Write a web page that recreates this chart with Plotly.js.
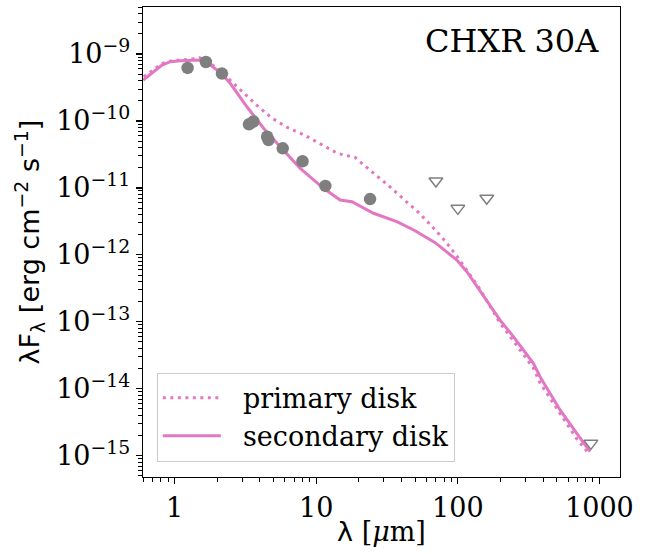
<!DOCTYPE html>
<html>
<head>
<meta charset="utf-8">
<script src="https://cdn.plot.ly/plotly-3.0.1.min.js"></script>
<style>html,body{margin:0;padding:0;background:#fff;}#chart{width:657px;height:554px;}</style>
</head>
<body>
<div id="chart"></div>
<script>
// photometry (filled circles)
const photLam = [1.235, 1.662, 2.159, 3.35, 3.6, 4.5, 4.6, 5.8, 8.0, 11.6, 24.0];
const photFlux = [6.2e-10, 7.6e-10, 5.1e-10, 8.9e-11, 9.8e-11, 5.8e-11, 5.2e-11, 3.9e-11, 2.5e-11, 1.07e-11, 6.8e-12];
// upper limits (open down-triangles)
const upperLam = [70, 100, 160, 870];
const upperFlux = [1.27e-11, 4.95e-12, 7.0e-12, 1.53e-15];
// primary disk model (dotted)
const primaryLam = [0.604, 0.731, 0.823, 0.959, 1.128, 1.29, 1.50, 1.693, 2.10, 2.43, 3.04, 3.815, 4.81, 6.21, 8.23, 10.8, 14.1, 16.3, 18.8, 21.0, 26.8, 33.65, 42.5, 53.3, 66.2, 81.4, 98.4, 117.5, 139.7, 198.7, 246.8, 341.6, 380.8, 527, 691.8, 850];
const primaryFlux = [4.58e-10, 6.11e-10, 7.26e-10, 7.94e-10, 8.13e-10, 8.33e-10, 8.81e-10, 8.13e-10, 5.45e-10, 4.19e-10, 2.68e-10, 1.71e-10, 1.12e-10, 8.04e-11, 6.17e-11, 4.53e-11, 3.29e-11, 3.05e-11, 2.86e-11, 2.33e-11, 1.52e-11, 1.01e-11, 6.44e-12, 4.22e-12, 2.61e-12, 1.61e-12, 9.6e-13, 5.6e-13, 3.34e-13, 9.6e-14, 5.16e-14, 2.04e-14, 1.22e-14, 4.2e-15, 1.78e-15, 1.05e-15];
// secondary disk model (solid)
const secondaryLam = [0.6, 0.815, 0.933, 1.097, 1.518, 1.674, 2.10, 2.47, 3.24, 4.25, 5.57, 7.71, 11.26, 14.76, 17.86, 25.4, 37.1, 49.2, 69.2, 98.4, 115.8, 160, 198.7, 246.8, 341.6, 380.8, 527, 691.8, 858.5];
const secondaryFlux = [4.09e-10, 6.85e-10, 7.67e-10, 7.94e-10, 8.14e-10, 7.67e-10, 5.26e-10, 3.65e-10, 1.63e-10, 7.77e-11, 4.12e-11, 1.96e-11, 9.87e-12, 6.6e-12, 6.22e-12, 4.18e-12, 3.13e-12, 2.33e-12, 1.52e-12, 8.37e-13, 5.6e-13, 2.12e-13, 1.06e-13, 6.0e-14, 2.4e-14, 1.51e-14, 4.82e-15, 2.16e-15, 1.15e-15];
// ticks
const xTickVals = [1, 10, 100, 1000];
const xTickText = ['1', '10', '100', '1000'];
const yTickVals = [1e-15, 1e-14, 1e-13, 1e-12, 1e-11, 1e-10, 1e-9];
const yTickText = ['10<sup>−15</sup>', '10<sup>−14</sup>', '10<sup>−13</sup>', '10<sup>−12</sup>', '10<sup>−11</sup>', '10<sup>−10</sup>', '10<sup>−9</sup>'];
const labelPrimary = 'primary disk';
const labelSecondary = 'secondary disk';
const objectName = 'CHXR 30A';

const pink = '#e377c2';
const gray = '#7f7f7f';
const serif = 'DejaVu Serif, serif';
const sans = 'DejaVu Sans, sans-serif';
const pad = '\u00a0\u00a0';

const traces = [
  {x: primaryLam, y: primaryFlux, type: 'scatter', mode: 'lines', name: pad + labelPrimary,
   line: {color: pink, width: 3, dash: '3px,4.5px'}, hoverinfo: 'skip'},
  {x: secondaryLam, y: secondaryFlux, type: 'scatter', mode: 'lines', name: pad + labelSecondary,
   line: {color: pink, width: 3}, hoverinfo: 'skip'},
  {x: photLam, y: photFlux, type: 'scatter', mode: 'markers', showlegend: false,
   marker: {symbol: 'circle', size: 12.5, color: gray}},
  {x: upperLam, y: upperFlux, type: 'scatter', mode: 'markers', showlegend: false,
   marker: {symbol: 'triangle-down-open', size: 12, color: gray, line: {width: 1.5, color: gray}}}
];

const axisCommon = {
  type: 'log', showgrid: false, zeroline: false,
  showline: true, linecolor: '#000', linewidth: 1.2, mirror: true,
  ticks: 'outside', ticklen: 6, tickwidth: 1.2, tickcolor: '#000',
  tickfont: {family: serif, size: 27, color: '#000'},
  minor: {ticks: 'outside', ticklen: 3.5, tickwidth: 1, tickcolor: '#000', dtick: 'D1', showgrid: false}
};

const layout = {
  width: 657, height: 554,
  margin: {l: 143, r: 37, t: 7, b: 77},
  paper_bgcolor: '#fff', plot_bgcolor: '#fff',
  showlegend: true,
  xaxis: Object.assign({}, axisCommon, {
    range: [Math.log10(0.598), Math.log10(1397)],
    tickmode: 'array', tickvals: xTickVals, ticktext: xTickText,
    title: {text: '<span style="font-family:DejaVu Sans">λ</span> [<i>μ</i>m]', font: {family: serif, size: 27, color: '#000'}, standoff: 0}
  }),
  yaxis: Object.assign({}, axisCommon, {
    range: [-15.318, -8.298],
    tickmode: 'array', tickvals: yTickVals, ticktext: yTickText,
    title: {text: 'λF<sub>λ</sub> [erg cm<sup>−2</sup> s<sup>−1</sup>]', font: {family: sans, size: 27, color: '#000'}, standoff: 8}
  }),
  legend: {
    x: 0.029, y: 0.222, xanchor: 'left', yanchor: 'top',
    bgcolor: 'rgba(255,255,255,0.8)', bordercolor: '#cccccc', borderwidth: 1,
    font: {family: serif, size: 27, color: '#000'},
    itemwidth: 58, tracegroupgap: 0
  },
  annotations: [{
    text: objectName, xref: 'paper', yref: 'paper', x: 0.96, y: 0.928,
    xanchor: 'right', yanchor: 'middle', showarrow: false,
    font: {family: serif, size: 32, color: '#000'}
  }]
};

Plotly.newPlot('chart', traces, layout, {displayModeBar: false, staticPlot: true});
</script>
</body>
</html>
